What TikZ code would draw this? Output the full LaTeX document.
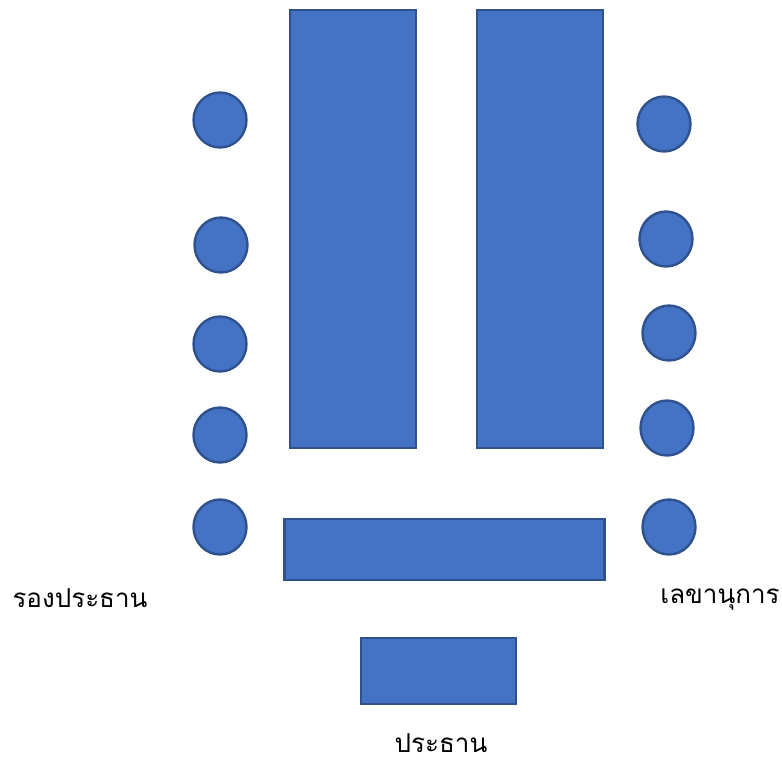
\documentclass[tikz,border=0pt]{standalone}
\usepackage{fontspec}
\usetikzlibrary{shapes.geometric}
\newfontfamily\thaifont[Script=Thai]{Loma}
\definecolor{seatfill}{HTML}{4472C4}
\definecolor{seatedge}{HTML}{2F528F}
\begin{document}
\begin{tikzpicture}[x=1pt,y=-1pt,
  tablebox/.style={draw=seatedge,fill=seatfill,line width=2.4pt,inner sep=0pt,outer sep=0pt},
  seat/.style={draw=seatedge,fill=seatfill,line width=2.4pt,ellipse,minimum width=53pt,minimum height=55pt,inner sep=0pt},
  label/.style={font=\thaifont\fontsize{26}{30}\selectfont,inner sep=0pt}]
\useasboundingbox (0,0) rectangle (782,763);
% tables
\node[tablebox,minimum width=126pt,minimum height=438pt] (tl) at (353,229) {};
\node[tablebox,minimum width=126pt,minimum height=438pt] (tr) at (540,229) {};
\node[tablebox,minimum width=320pt,minimum height=61pt] (tb) at (444.5,549.5) {};
\node[tablebox,minimum width=155pt,minimum height=66pt] (tc) at (438.5,671) {};
% seats on the left
\node[seat] (l1) at (220,120) {};
\node[seat] (l2) at (221,245) {};
\node[seat] (l3) at (220,344) {};
\node[seat] (l4) at (220,435) {};
\node[seat] (l5) at (220,527) {};
% seats on the right
\node[seat] (r1) at (664,124) {};
\node[seat] (r2) at (666,239) {};
\node[seat] (r3) at (669,333) {};
\node[seat] (r4) at (667,428) {};
\node[seat] (r5) at (669,527) {};
% labels
\node[label] (vice) at (80,598) {รองประธาน};
\node[label] (sec) at (720,600) {เลขานุการ};
\node[label] (chair) at (441,743) {ประธาน};
\end{tikzpicture}
\end{document}
